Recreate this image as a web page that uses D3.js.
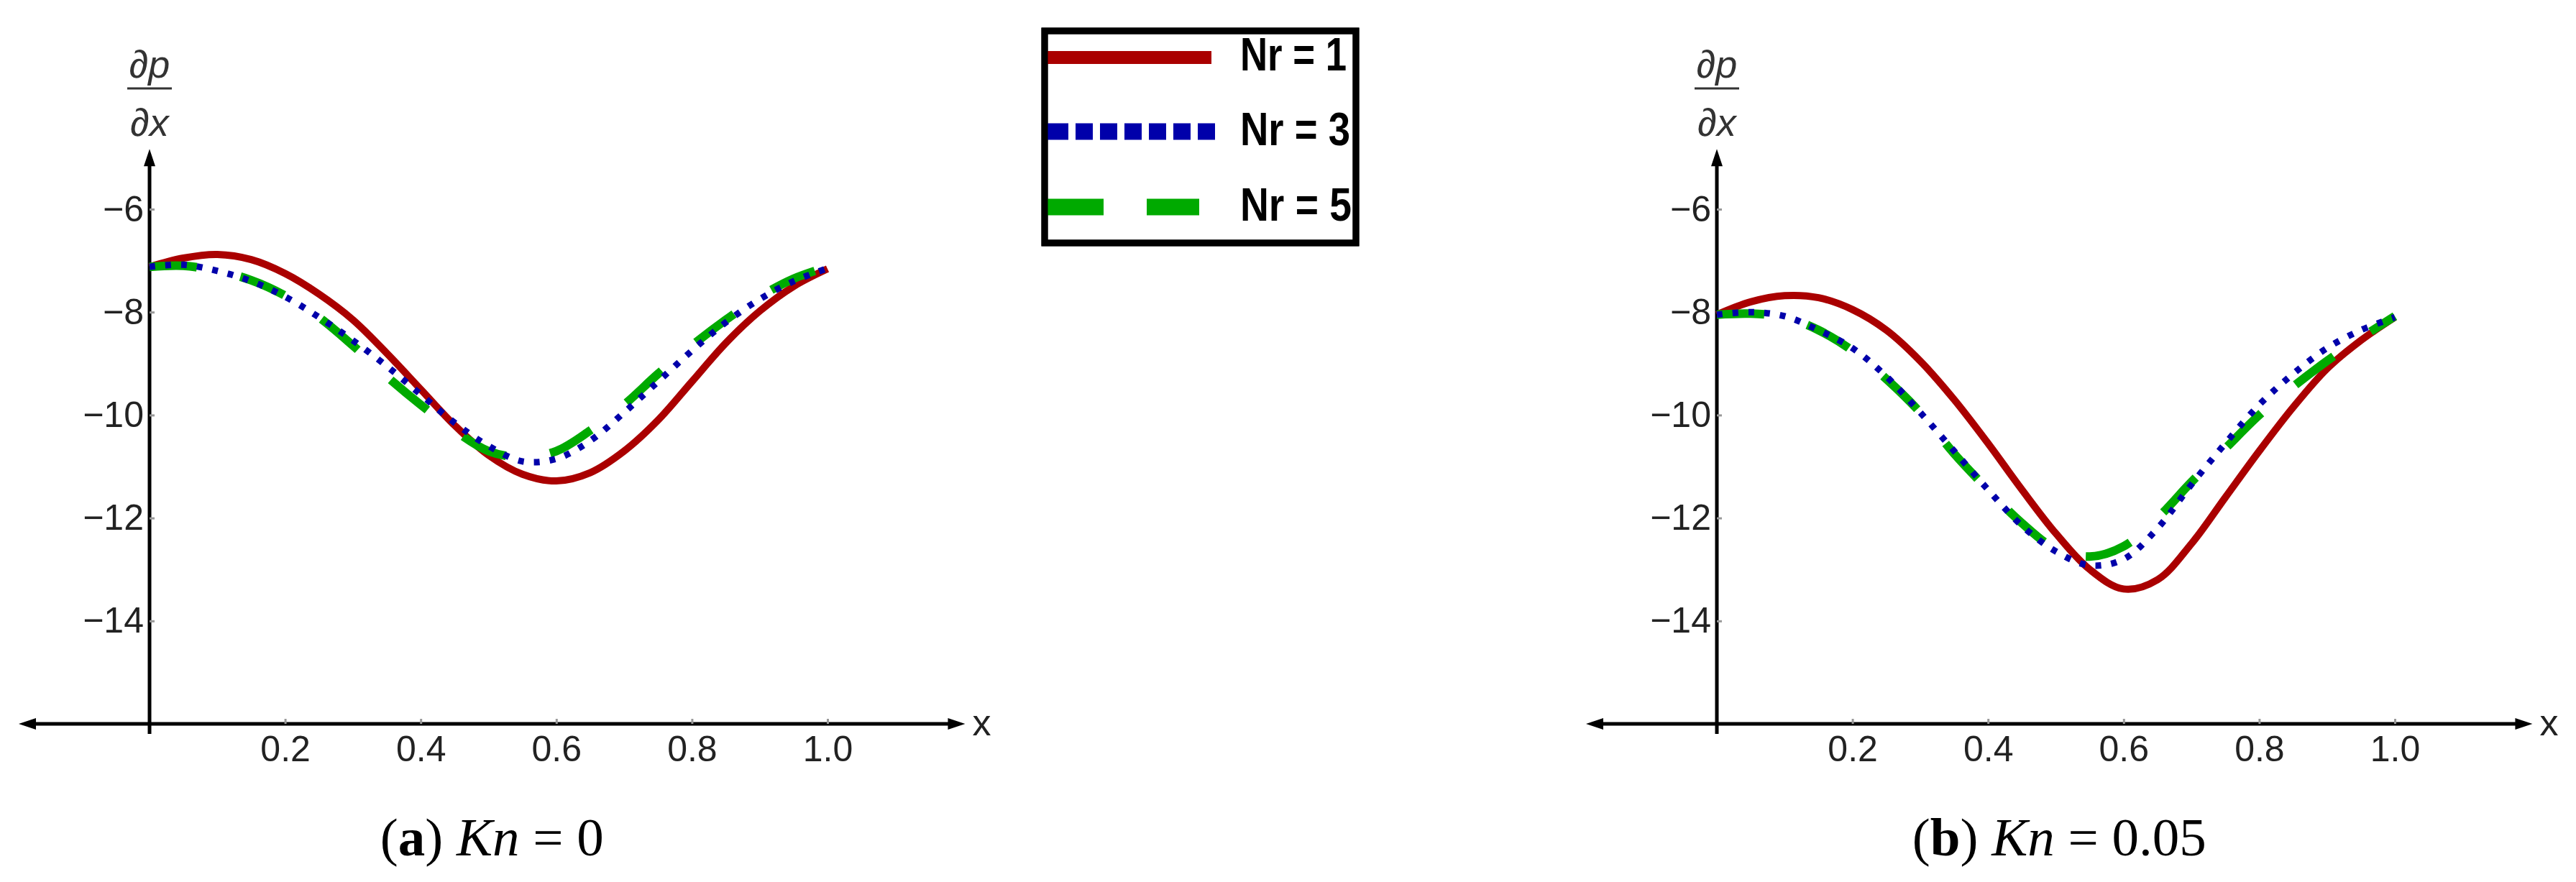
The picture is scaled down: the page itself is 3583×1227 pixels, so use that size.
<!DOCTYPE html>
<html>
<head>
<meta charset="utf-8">
<script src="https://cdn.jsdelivr.net/npm/d3@7"></script>
<style>
  html, body { margin: 0; padding: 0; background: #fff; }
  svg { display: block; }
</style>
</head>
<body>
<svg id="chart" width="3583" height="1227"></svg>
<script>
// ---------------- data ----------------
const xValues = [0, 0.05, 0.1, 0.15, 0.2, 0.25, 0.3, 0.35, 0.4, 0.45, 0.5,
                 0.55, 0.6, 0.65, 0.7, 0.75, 0.8, 0.85, 0.9, 0.95, 1.0];

// Panel (a) Kn = 0
const kn0_nr1 = [-7.12, -6.95, -6.88, -6.98, -7.25, -7.65, -8.15, -8.8, -9.5, -10.2, -10.78,
                 -11.15, -11.28, -11.12, -10.7, -10.1, -9.35, -8.6, -7.98, -7.5, -7.16];
const kn0_nr3 = [-7.12, -7.08, -7.2, -7.4, -7.7, -8.1, -8.55, -9.05, -9.6, -10.15, -10.6,
                 -10.9, -10.85, -10.5, -9.95, -9.35, -8.75, -8.2, -7.75, -7.4, -7.15];
const kn0_nr5 = [-7.12, -7.1, -7.2, -7.38, -7.68, -8.1, -8.65, -9.25, -9.8, -10.3, -10.7,
                 -10.82, -10.7, -10.3, -9.8, -9.2, -8.65, -8.15, -7.7, -7.35, -7.12];

// Panel (b) Kn = 0.05
const kn005_nr1 = [-8.05, -7.8, -7.68, -7.72, -7.95, -8.35, -8.95, -9.7, -10.55, -11.45, -12.3,
                   -13.0, -13.38, -13.2, -12.5, -11.6, -10.7, -9.85, -9.1, -8.55, -8.1];
const kn005_nr3 = [-8.05, -8.0, -8.08, -8.35, -8.7, -9.25, -9.95, -10.7, -11.45, -12.15, -12.65,
                   -12.92, -12.8, -12.2, -11.35, -10.55, -9.8, -9.2, -8.7, -8.35, -8.1];
const kn005_nr5 = [-8.05, -8.03, -8.1, -8.35, -8.75, -9.3, -9.95, -10.75, -11.45, -12.1, -12.6,
                   -12.75, -12.55, -12.0, -11.3, -10.65, -10.0, -9.45, -8.95, -8.5, -8.08];

const xTicks = [0.2, 0.4, 0.6, 0.8, 1.0];
const yTicks = [-6, -8, -10, -12, -14];
const seriesNames = ["Nr = 1", "Nr = 3", "Nr = 5"];
const captions = [["a", "Kn", " = 0"], ["b", "Kn", " = 0.05"]];

// ---------------- styles ----------------
const colors = ["#aa0000", "#0000aa", "#00aa00"];
const widths = [10, 9, 12];
const dashes = [null, "8 14", "66 62"];

const svg = d3.select("#chart");

const xDomainExt = [-0.193, 1.203];
const yDomainTop = -4.83;

function panel(offsetX, data, caption) {
  const x = d3.scaleLinear().domain([0, 1]).range([208 + offsetX, 1151 + offsetX]);
  const y = d3.scaleLinear().domain([-16, -6]).range([1007, 291]);
  const g = svg.append("g");

  // x axis line with arrows
  const xa0 = x(xDomainExt[0]), xa1 = x(xDomainExt[1]), ya = y(-16);
  g.append("line").attr("x1", xa0 + 10).attr("x2", xa1 - 10).attr("y1", ya).attr("y2", ya)
    .attr("stroke", "#000").attr("stroke-width", 5);
  g.append("path").attr("d", `M${xa1},${ya} L${xa1 - 24},${ya - 8} L${xa1 - 24},${ya + 8} Z`).attr("fill", "#000");
  g.append("path").attr("d", `M${xa0},${ya} L${xa0 + 24},${ya - 8} L${xa0 + 24},${ya + 8} Z`).attr("fill", "#000");

  // y axis line with arrow
  const yx = x(0), yTop = y(yDomainTop);
  g.append("line").attr("x1", yx).attr("x2", yx).attr("y1", ya + 14).attr("y2", yTop + 10)
    .attr("stroke", "#000").attr("stroke-width", 5);
  g.append("path").attr("d", `M${yx},${yTop} L${yx - 8},${yTop + 24} L${yx + 8},${yTop + 24} Z`).attr("fill", "#000");

  // x axis ticks/labels
  const xAxis = d3.axisBottom(x).tickValues(xTicks).tickFormat(d3.format(".1f"))
    .tickSizeInner(-7).tickSizeOuter(0).tickPadding(16);
  const gx = g.append("g").attr("transform", `translate(0,${ya})`).call(xAxis);
  gx.select(".domain").remove();
  gx.selectAll(".tick line").attr("stroke", "#999").attr("stroke-width", 3);
  gx.selectAll(".tick text").attr("font-family", "Liberation Sans, Arial, sans-serif")
    .attr("font-size", 50).attr("fill", "#222");

  // y axis ticks/labels
  const yAxis = d3.axisLeft(y).tickValues(yTicks).tickFormat(d3.format("d"))
    .tickSizeInner(-7).tickSizeOuter(0).tickPadding(8);
  const gy = g.append("g").attr("transform", `translate(${yx},0)`).call(yAxis);
  gy.select(".domain").remove();
  gy.selectAll(".tick line").attr("stroke", "#999").attr("stroke-width", 3);
  gy.selectAll(".tick text").attr("font-family", "Liberation Sans, Arial, sans-serif")
    .attr("font-size", 50).attr("fill", "#222");

  // axis labels
  g.append("text").attr("x", xa1 + 10).attr("y", ya + 16)
    .attr("font-family", "Liberation Sans, Arial, sans-serif").attr("font-size", 52).attr("fill", "#222")
    .text("x");
  const lab = g.append("g").attr("font-family", "Liberation Sans, Arial, sans-serif")
    .attr("font-style", "italic").attr("font-size", 54).attr("fill", "#333").attr("text-anchor", "middle");
  lab.append("text").attr("x", yx).attr("y", 108).text("∂p");
  lab.append("line").attr("x1", yx - 31).attr("x2", yx + 31).attr("y1", 123).attr("y2", 123)
    .attr("stroke", "#333").attr("stroke-width", 3);
  lab.append("text").attr("x", yx).attr("y", 189).text("∂x");

  // curves
  const line = d3.line().x((d, i) => x(xValues[i])).y(d => y(d)).curve(d3.curveCatmullRom.alpha(0.5));
  const order = [0, 2, 1];
  order.forEach(k => {
    const p = g.append("path").datum(data[k]).attr("d", line)
      .attr("fill", "none").attr("stroke", colors[k]).attr("stroke-width", widths[k]);
    if (dashes[k]) p.attr("stroke-dasharray", dashes[k]);
  });

  // caption
  const cx = (xa0 + xa1) / 2;
  const t = g.append("text").attr("x", cx).attr("y", 1190).attr("text-anchor", "middle")
    .attr("font-family", "Liberation Serif, Times New Roman, serif").attr("font-size", 75).attr("fill", "#000");
  t.append("tspan").text("(");
  t.append("tspan").attr("font-weight", "bold").text(caption[0]);
  t.append("tspan").text(") ");
  t.append("tspan").attr("font-style", "italic").text(caption[1]);
  t.append("tspan").text(caption[2]);
}

panel(0, [kn0_nr1, kn0_nr3, kn0_nr5], captions[0]);
panel(2180, [kn005_nr1, kn005_nr3, kn005_nr5], captions[1]);

// ---------------- legend ----------------
const lg = svg.append("g");
lg.append("rect").attr("x", 1453).attr("y", 43).attr("width", 433).attr("height", 295)
  .attr("fill", "#fff").attr("stroke", "#000").attr("stroke-width", 9);
const legendY = [80, 183, 288];
const legendDash = [null,
  "34 10 24 10 24 10 24 10 24 10 24 10 24 400",
  "83 60 73 400"];
const legendW = [18, 23, 23];
const legendEnd = [1685, 1690, 1668];
const textBase = [98, 202, 307];
const textLen = [148, 153, 155];
seriesNames.forEach((name, k) => {
  const l = lg.append("line").attr("x1", 1452).attr("x2", legendEnd[k])
    .attr("y1", legendY[k]).attr("y2", legendY[k])
    .attr("stroke", colors[k]).attr("stroke-width", legendW[k]);
  if (legendDash[k]) l.attr("stroke-dasharray", legendDash[k]);
  lg.append("text").attr("x", 1725).attr("y", textBase[k])
    .attr("font-family", "Liberation Sans, Arial, sans-serif").attr("font-weight", "bold")
    .attr("font-size", 65).attr("fill", "#000")
    .attr("textLength", textLen[k]).attr("lengthAdjust", "spacingAndGlyphs")
    .text(name);
});
// redraw the border on top so the sample lines tuck under it
lg.append("rect").attr("x", 1453).attr("y", 43).attr("width", 433).attr("height", 295)
  .attr("fill", "none").attr("stroke", "#000").attr("stroke-width", 9);
</script>
</body>
</html>
